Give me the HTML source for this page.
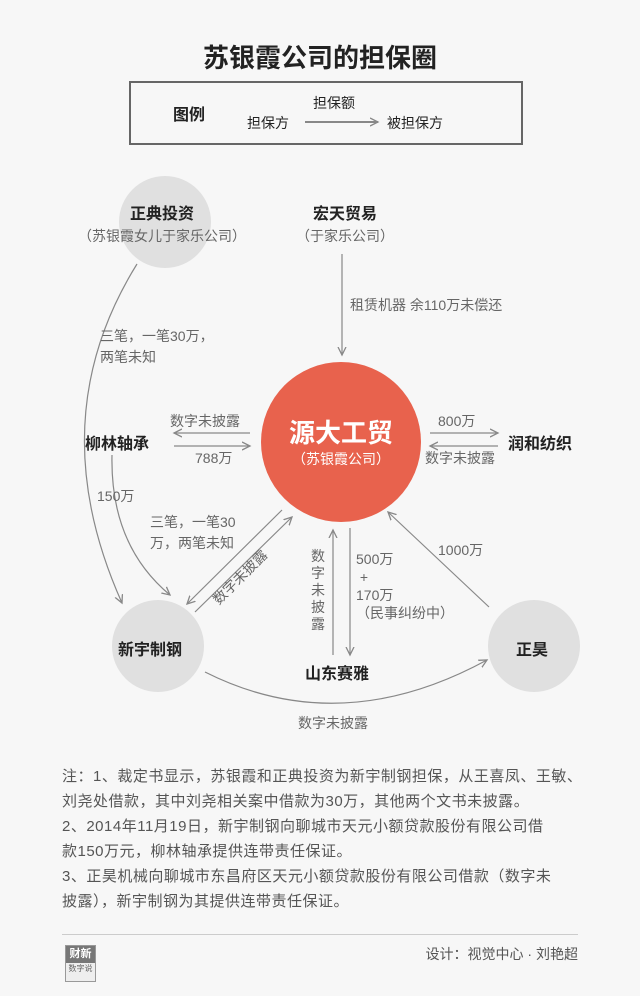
<!DOCTYPE html>
<html><head><meta charset="utf-8"><style>
body{margin:0;background:#f4f4f4;}
#c{position:relative;width:640px;height:996px;background:#f7f7f7;font-family:"Liberation Sans","Noto Sans CJK SC",sans-serif;}
.t{position:absolute;white-space:nowrap;}
.n{position:absolute;left:62px;font-size:15px;line-height:25px;color:#555;white-space:nowrap;letter-spacing:0.5px;}
</style></head><body><div id="c">
<svg width="640" height="996" style="position:absolute;left:0;top:0">
<defs><marker id="a" markerWidth="10" markerHeight="10" refX="8" refY="5" orient="auto" markerUnits="userSpaceOnUse"><path d="M0,1 L8,5 L0,9" fill="none" stroke="#888" stroke-width="1.3"/></marker></defs>
<rect x="130" y="82" width="392" height="62" fill="none" stroke="#666" stroke-width="2"/>
<line x1="305" y1="122" x2="378" y2="122" stroke="#888" stroke-width="2" marker-end="url(#a)"/>
<circle cx="165" cy="222" r="46" fill="#e0e0e0"/>
<circle cx="158" cy="646" r="46" fill="#e0e0e0"/>
<circle cx="534" cy="646" r="46" fill="#e0e0e0"/>
<ellipse cx="341" cy="442" rx="80" ry="80" fill="#e8624d"/>
<g stroke="#888" stroke-width="1.2" fill="none">
<line x1="342" y1="254" x2="342" y2="355" marker-end="url(#a)"/>
<line x1="250" y1="433" x2="174" y2="433" marker-end="url(#a)"/>
<line x1="174" y1="446" x2="250" y2="446" marker-end="url(#a)"/>
<line x1="430" y1="433" x2="498" y2="433" marker-end="url(#a)"/>
<line x1="498" y1="446" x2="430" y2="446" marker-end="url(#a)"/>
<line x1="333" y1="655" x2="333" y2="530" marker-end="url(#a)"/>
<line x1="350" y1="528" x2="350" y2="655" marker-end="url(#a)"/>
<line x1="489" y1="607" x2="388" y2="512" marker-end="url(#a)"/>
<line x1="282" y1="510" x2="187" y2="604" marker-end="url(#a)"/>
<line x1="195" y1="612" x2="292" y2="517" marker-end="url(#a)"/>
<path d="M112,455 Q110,545 170,595" marker-end="url(#a)"/>
<path d="M137,264 Q40,420 122,603" marker-end="url(#a)"/>
<path d="M205,672 Q340,740 487,660" marker-end="url(#a)"/>
</g>
</svg>
<div class="t" style="left:0;width:640px;text-align:center;top:38px;font-size:26px;color:#222;font-weight:bold;">苏银霞公司的担保圈</div>
<div class="t" style="left:173px;top:101px;font-size:16px;font-weight:bold;color:#222;">图例</div>
<div class="t" style="left:313px;top:93px;font-size:14px;color:#222;">担保额</div>
<div class="t" style="left:247px;top:113px;font-size:14px;color:#222;">担保方</div>
<div class="t" style="left:387px;top:113px;font-size:14px;color:#222;">被担保方</div>
<div class="t" style="left:92px;width:140px;text-align:center;top:200px;font-size:16px;font-weight:bold;color:#222;">正典投资</div>
<div class="t" style="left:72px;width:180px;text-align:center;top:226px;font-size:14px;color:#666;">（苏银霞女儿于家乐公司）</div>
<div class="t" style="left:280px;width:130px;text-align:center;top:200px;font-size:16px;font-weight:bold;color:#222;">宏天贸易</div>
<div class="t" style="left:280px;width:130px;text-align:center;top:226px;font-size:14px;color:#666;">（于家乐公司）</div>
<div class="t" style="left:350px;top:295px;font-size:14px;color:#666;">租赁机器 余110万未偿还</div>
<div class="t" style="left:100px;top:326px;font-size:14px;line-height:21px;color:#666;">三笔，一笔30万，<br>两笔未知</div>
<div class="t" style="left:261px;width:160px;text-align:center;top:413px;font-size:26px;color:#fff;font-weight:bold;">源大工贸</div>
<div class="t" style="left:261px;width:160px;text-align:center;top:449px;font-size:14px;color:#fff;">（苏银霞公司）</div>
<div class="t" style="left:85px;top:430px;font-size:16px;font-weight:bold;color:#222;">柳林轴承</div>
<div class="t" style="left:170px;top:411px;font-size:14px;color:#666;">数字未披露</div>
<div class="t" style="left:195px;top:448px;font-size:14px;color:#666;">788万</div>
<div class="t" style="left:508px;top:430px;font-size:16px;font-weight:bold;color:#222;">润和纺织</div>
<div class="t" style="left:438px;top:411px;font-size:14px;color:#666;">800万</div>
<div class="t" style="left:425px;top:448px;font-size:14px;color:#666;">数字未披露</div>
<div class="t" style="left:97px;top:486px;font-size:14px;color:#666;">150万</div>
<div class="t" style="left:150px;top:512px;font-size:14px;line-height:21px;color:#666;">三笔，一笔30<br>万，两笔未知</div>
<div class="t" style="left:205px;top:567px;font-size:14px;color:#666;transform:rotate(-45deg);">数字未披露</div>
<div class="t" style="left:311px;top:548px;font-size:14px;line-height:17px;width:16px;color:#666;white-space:normal;">数字未披露</div>
<div class="t" style="left:356px;top:550px;font-size:14px;line-height:18px;color:#666;">500万<br>&nbsp;+<br>170万<br>（民事纠纷中）</div>
<div class="t" style="left:438px;top:540px;font-size:14px;color:#666;">1000万</div>
<div class="t" style="left:118px;top:636px;font-size:16px;font-weight:bold;color:#222;">新宇制钢</div>
<div class="t" style="left:516px;top:636px;font-size:16px;font-weight:bold;color:#222;">正昊</div>
<div class="t" style="left:305px;top:660px;font-size:16px;font-weight:bold;color:#222;">山东赛雅</div>
<div class="t" style="left:298px;top:713px;font-size:14px;color:#666;">数字未披露</div>
<div class="n" style="top:764px;">注：1、裁定书显示，苏银霞和正典投资为新宇制钢担保，从王喜凤、王敏、<br>刘尧处借款，其中刘尧相关案中借款为30万，其他两个文书未披露。<br>2、2014年11月19日，新宇制钢向聊城市天元小额贷款股份有限公司借<br>款150万元，柳林轴承提供连带责任保证。<br>3、正昊机械向聊城市东昌府区天元小额贷款股份有限公司借款（数字未<br>披露），新宇制钢为其提供连带责任保证。</div>
<div style="position:absolute;left:62px;top:934px;width:516px;height:1px;background:#ccc;"></div>
<div style="position:absolute;left:65px;top:945px;width:29px;height:35px;border:1px solid #999;background:#eee;">
<div style="background:#777;color:#fff;font-size:11px;line-height:17px;text-align:center;font-weight:bold;">财新</div>
<div style="font-size:8px;color:#666;text-align:center;line-height:12px;">数字说</div></div>
<div class="t" style="right:62px;top:944px;font-size:14px;color:#555;">设计：视觉中心 · 刘艳超</div>
</div></body></html>
